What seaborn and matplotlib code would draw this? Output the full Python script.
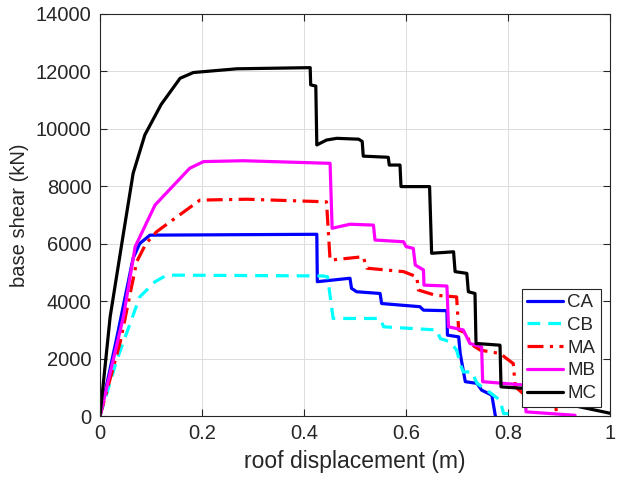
import seaborn as sns
import matplotlib.pyplot as plt
import pandas as pd

# pushover curves
ca_x = [0, 0.035, 0.065, 0.078, 0.098, 0.425, 0.426, 0.490, 0.493, 0.503, 0.549, 0.552, 0.627, 0.634, 0.680, 0.681,
        0.703, 0.706, 0.716, 0.739, 0.748, 0.768, 0.775]
ca_y = [0, 2900, 5500, 6010, 6300, 6330, 4680, 4800, 4450, 4330, 4270, 3920, 3810, 3690, 3670, 2820,
        2760, 2180, 1200, 1140, 905, 730, 0]

cb_x = [0, 0.033, 0.078, 0.108, 0.131, 0.438, 0.446, 0.457, 0.549, 0.556, 0.660, 0.667, 0.686, 0.699, 0.706, 0.712,
        0.729, 0.739, 0.758, 0.784, 0.791, 0.804, 0.806]
cb_y = [0, 1950, 4150, 4680, 4910, 4880, 4850, 3400, 3400, 3110, 3000, 2700, 2590, 2300, 1830, 1540,
        1540, 1140, 905, 557, 90, 90, 0]

ma_x = [0, 0.04, 0.072, 0.09, 0.111, 0.196, 0.288, 0.444, 0.451, 0.516, 0.523, 0.595, 0.621, 0.624, 0.657, 0.699,
        0.703, 0.719, 0.725, 0.745, 0.784, 0.810, 0.814, 0.837, 0.893, 0.895]
ma_y = [0, 2600, 5375, 6000, 6420, 7520, 7550, 7460, 5430, 5550, 5150, 5030, 4850, 4390, 4210, 4150,
        3000, 2880, 2530, 2300, 2180, 1830, 1020, 670, 450, 0]

mb_x = [0, 0.046, 0.069, 0.108, 0.176, 0.203, 0.281, 0.451, 0.455, 0.490, 0.536, 0.539, 0.595, 0.600, 0.614, 0.618,
        0.634, 0.635, 0.680, 0.683, 0.712, 0.725, 0.748, 0.750, 0.833, 0.835, 0.931]
mb_y = [0, 3460, 5900, 7350, 8630, 8860, 8890, 8800, 6540, 6680, 6650, 6130, 6070, 5900, 5840, 5260,
        5090, 4560, 4530, 3110, 3000, 2530, 2410, 1200, 1080, 150, 30]

mc_x = [0, 0.02, 0.046, 0.065, 0.088, 0.12, 0.157, 0.183, 0.268, 0.412, 0.413, 0.423, 0.425, 0.444, 0.464, 0.507, 0.514,
        0.516, 0.565, 0.567, 0.588, 0.590, 0.646, 0.650, 0.693, 0.696, 0.719, 0.722, 0.735, 0.737, 0.784, 0.786,
        0.837, 0.92, 1.0]
mc_y = [0, 3460, 6360, 8450, 9790, 10850, 11760, 11960, 12090, 12130, 11530, 11490, 9440, 9610, 9670, 9640, 9560,
        9050, 9010, 8740, 8740, 7990, 7990, 5670, 5720, 5030, 4970, 4330, 4270, 2530, 2470, 1020,
        960, 400, 100]

series = [("CA", ca_x, ca_y, "#0000ff", "-"),
          ("CB", cb_x, cb_y, "#00ffff", (0, (4, 2.5))),
          ("MA", ma_x, ma_y, "#ff0000", (0, (5, 2, 1, 2))),
          ("MB", mb_x, mb_y, "#ff00ff", "-"),
          ("MC", mc_x, mc_y, "#000000", "-")]

sns.set_theme(style="whitegrid")
plt.rcParams['font.family'] = ['Liberation Sans', 'DejaVu Sans']

fig = plt.figure(figsize=(6.17, 4.80), dpi=100)
ax = fig.add_axes([0.162, 0.133, 0.827, 0.838])

for name, xs, ys, col, ls in series:
    df = pd.DataFrame({"x": xs, "y": ys})
    sns.lineplot(data=df, x="x", y="y", ax=ax, sort=False, estimator=None,
                 color=col, linewidth=2.3, linestyle=ls, label=name)

ax.set_xlim(0, 1)
ax.set_ylim(0, 14000)
ax.set_xticks([0, 0.2, 0.4, 0.6, 0.8, 1])
ax.set_xticklabels(["0", "0.2", "0.4", "0.6", "0.8", "1"])
ax.set_yticks(range(0, 14001, 2000))
ax.set_xlabel("roof displacement (m)", fontsize=16.5, color="#262626", labelpad=5)
ax.set_ylabel("base shear (kN)", fontsize=14.5, color="#262626", labelpad=5)
ax.tick_params(direction="in", length=5, width=0.8, labelsize=14.5, colors="#262626",
               top=True, right=True, bottom=True, left=True, pad=6)
ax.grid(True, color="#dcdcdc", linewidth=0.7)
for s in ax.spines.values():
    s.set_visible(True)
    s.set_color("#262626")
    s.set_linewidth(0.8)

leg = ax.legend(loc="lower right", fontsize=13.5, handlelength=1.95, handletextpad=0.2,
                labelspacing=0.3, borderpad=0.25, borderaxespad=0.5,
                fancybox=False, framealpha=1, edgecolor="#262626")
leg.get_frame().set_linewidth(0.8)

fig.savefig("out.png", dpi=100)
